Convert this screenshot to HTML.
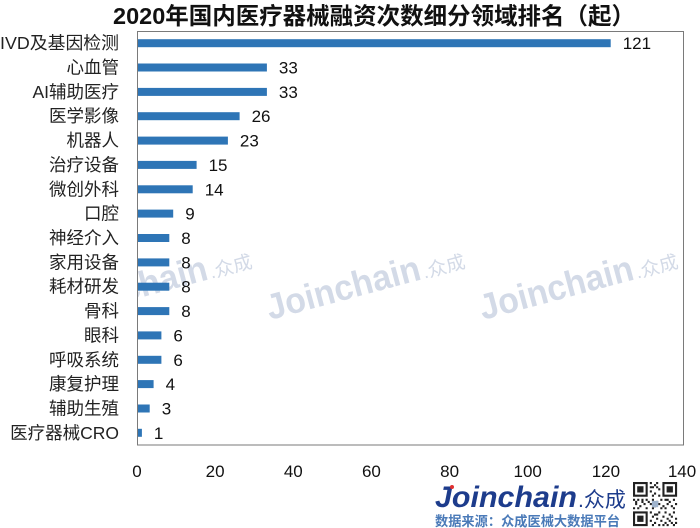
<!DOCTYPE html>
<html><head><meta charset="utf-8"><style>
html,body{margin:0;padding:0;background:#fff;}
svg{display:block;}
</style></head><body>
<svg width="700" height="528" viewBox="0 0 700 528" xmlns="http://www.w3.org/2000/svg">
<rect width="700" height="528" fill="#fff"/>
<!-- title -->
<text x="113" y="24" font-family="'Liberation Sans','Noto Sans CJK SC',sans-serif" font-weight="bold" font-size="23.5" fill="#111" textLength="522" lengthAdjust="spacingAndGlyphs">2020年国内医疗器械融资次数细分领域排名（起）</text>

<!-- watermarks clipped to plot -->
<defs><clipPath id="pc"><rect x="138" y="32" width="545" height="412"/></clipPath></defs>
<g clip-path="url(#pc)" font-family="'Liberation Sans','Noto Sans CJK SC',sans-serif" fill="#d3dae7">
  <g transform="translate(57,320) rotate(-15)">
    <text x="0" y="0" font-size="36" font-weight="bold" textLength="158" lengthAdjust="spacingAndGlyphs">Joinchain</text>
    <text x="160" y="0" font-size="19">.众成</text>
  </g>
  <g transform="translate(270,320) rotate(-15)">
    <text x="0" y="0" font-size="36" font-weight="bold" textLength="158" lengthAdjust="spacingAndGlyphs">Joinchain</text>
    <text x="160" y="0" font-size="19">.众成</text>
  </g>
  <g transform="translate(483,320) rotate(-15)">
    <text x="0" y="0" font-size="36" font-weight="bold" textLength="158" lengthAdjust="spacingAndGlyphs">Joinchain</text>
    <text x="160" y="0" font-size="19">.众成</text>
  </g>
</g>

<!-- frame -->
<rect x="137.5" y="31.5" width="546" height="413.5" fill="none" stroke="#7a7a7a" stroke-width="1"/>

<!-- bars -->
<g fill="#2e75b6">
<rect x="138" y="39.2" width="472.7" height="8"/>
<rect x="138" y="63.5" width="128.9" height="8"/>
<rect x="138" y="87.9" width="128.9" height="8"/>
<rect x="138" y="112.2" width="101.6" height="8"/>
<rect x="138" y="136.6" width="89.9" height="8"/>
<rect x="138" y="160.9" width="58.6" height="8"/>
<rect x="138" y="185.3" width="54.7" height="8"/>
<rect x="138" y="209.6" width="35.2" height="8"/>
<rect x="138" y="234.0" width="31.3" height="8"/>
<rect x="138" y="258.4" width="31.3" height="8"/>
<rect x="138" y="282.7" width="31.3" height="8"/>
<rect x="138" y="307.1" width="31.3" height="8"/>
<rect x="138" y="331.4" width="23.4" height="8"/>
<rect x="138" y="355.8" width="23.4" height="8"/>
<rect x="138" y="380.1" width="15.6" height="8"/>
<rect x="138" y="404.5" width="11.7" height="8"/>
<rect x="138" y="428.8" width="3.9" height="8"/>
</g>

<!-- value labels -->
<g font-family="'Liberation Sans',sans-serif" font-size="17" fill="#111">
<text x="622.7" y="49.2">121</text>
<text x="278.9" y="73.5">33</text>
<text x="278.9" y="97.9">33</text>
<text x="251.6" y="122.2">26</text>
<text x="239.9" y="146.6">23</text>
<text x="208.6" y="170.9">15</text>
<text x="204.7" y="195.3">14</text>
<text x="185.2" y="219.6">9</text>
<text x="181.3" y="244.0">8</text>
<text x="181.3" y="268.4">8</text>
<text x="181.3" y="292.7">8</text>
<text x="181.3" y="317.1">8</text>
<text x="173.4" y="341.4">6</text>
<text x="173.4" y="365.8">6</text>
<text x="165.6" y="390.1">4</text>
<text x="161.7" y="414.5">3</text>
<text x="153.9" y="438.8">1</text>
</g>

<!-- category labels -->
<g font-family="'Liberation Sans','Noto Sans CJK SC',sans-serif" font-size="17.5" fill="#222" text-anchor="end">
<text x="119" y="49.2" textLength="119" lengthAdjust="spacingAndGlyphs">IVD及基因检测</text>
<text x="119" y="73.5">心血管</text>
<text x="119" y="97.9">AI辅助医疗</text>
<text x="119" y="122.2">医学影像</text>
<text x="119" y="146.6">机器人</text>
<text x="119" y="170.9">治疗设备</text>
<text x="119" y="195.3">微创外科</text>
<text x="119" y="219.6">口腔</text>
<text x="119" y="244.0">神经介入</text>
<text x="119" y="268.4">家用设备</text>
<text x="119" y="292.7">耗材研发</text>
<text x="119" y="317.1">骨科</text>
<text x="119" y="341.4">眼科</text>
<text x="119" y="365.8">呼吸系统</text>
<text x="119" y="390.1">康复护理</text>
<text x="119" y="414.5">辅助生殖</text>
<text x="119" y="438.8">医疗器械CRO</text>
</g>

<!-- x tick labels -->
<g font-family="'Liberation Sans',sans-serif" font-size="17" fill="#111" text-anchor="middle">
<text x="137" y="477">0</text>
<text x="215.1" y="477">20</text>
<text x="293.3" y="477">40</text>
<text x="371.4" y="477">60</text>
<text x="449.6" y="477">80</text>
<text x="527.7" y="477">100</text>
<text x="605.9" y="477">120</text>
<text x="682" y="477">140</text>
</g>

<!-- logo -->
<text x="435" y="507" font-family="'Liberation Sans',sans-serif" font-size="30" font-weight="bold" font-style="italic" fill="#1d3c8c" textLength="142" lengthAdjust="spacingAndGlyphs">Joinchain</text>
<circle cx="452" cy="487" r="2" fill="#e03030"/>
<text x="578" y="507" font-family="'Liberation Sans','Noto Sans CJK SC',sans-serif" font-size="21" fill="#1d3c8c">.众成</text>
<text x="435" y="526" font-family="'Liberation Sans','Noto Sans CJK SC',sans-serif" font-size="13.5" font-weight="bold" fill="#4a7ab8" textLength="185" lengthAdjust="spacingAndGlyphs">数据来源：众成医械大数据平台</text>

<!-- QR code -->
<g transform="translate(633,482) scale(2.1)">
  <rect x="0" y="0" width="21" height="21" fill="#fff"/>
  <g fill="#222">
    <path d="M0 0h7v7h-7z M14 0h7v7h-7z M0 14h7v7h-7z"/>
  </g>
  <g fill="#fff">
    <path d="M1 1h5v5h-5z M15 1h5v5h-5z M1 15h5v5h-5z"/>
  </g>
  <g fill="#222">
    <path d="M2 2h3v3h-3z M16 2h3v3h-3z M2 16h3v3h-3z"/>
    <path d="M8 0h1v1h-1z M10 1h1v1h-1z M9 2h1v1h-1z M11 2h1v1h-1z M12 3h1v1h-1z M8 4h1v1h-1z M10 5h1v1h-1z M12 6h1v1h-1z M9 6h1v1h-1z M11 0h1v1h-1z M8 2h1v1h-1z
    M0 8h1v1h-1z M2 8h1v1h-1z M4 8h1v1h-1z M6 8h1v1h-1z M7 9h1v1h-1z M9 8h1v1h-1z M11 9h1v1h-1z M13 8h1v1h-1z M15 8h1v1h-1z M17 9h1v1h-1z M19 8h1v1h-1z M20 10h1v1h-1z M1 10h1v1h-1z M3 11h1v1h-1z M5 10h1v1h-1z M8 10h1v1h-1z M10 11h1v1h-1z M12 10h1v1h-1z M14 11h1v1h-1z M16 10h1v1h-1z M18 11h1v1h-1z M0 12h1v1h-1z M2 12h1v1h-1z M6 12h1v1h-1z M9 12h1v1h-1z M13 12h1v1h-1z M15 12h1v1h-1z M19 12h1v1h-1z M4 9h1v1h-1z M16 8h1v1h-1z M1 9h1v1h-1z
    M8 14h1v1h-1z M10 15h1v1h-1z M12 14h1v1h-1z M15 14h1v1h-1z M17 15h1v1h-1z M19 14h1v1h-1z M9 16h1v1h-1z M11 17h1v1h-1z M14 16h1v1h-1z M16 17h1v1h-1z M18 16h1v1h-1z M20 17h1v1h-1z M8 18h1v1h-1z M10 19h1v1h-1z M13 18h1v1h-1z M15 19h1v1h-1z M17 18h1v1h-1z M19 20h1v1h-1z M9 20h1v1h-1z M12 20h1v1h-1z M14 20h1v1h-1z M16 20h1v1h-1z M20 19h1v1h-1z M18 19h1v1h-1z M11 15h1v1h-1z"/>
  </g>
  <rect x="9" y="9" width="3" height="3" fill="#9fb3cc"/>
</g>
</svg>
</body></html>
